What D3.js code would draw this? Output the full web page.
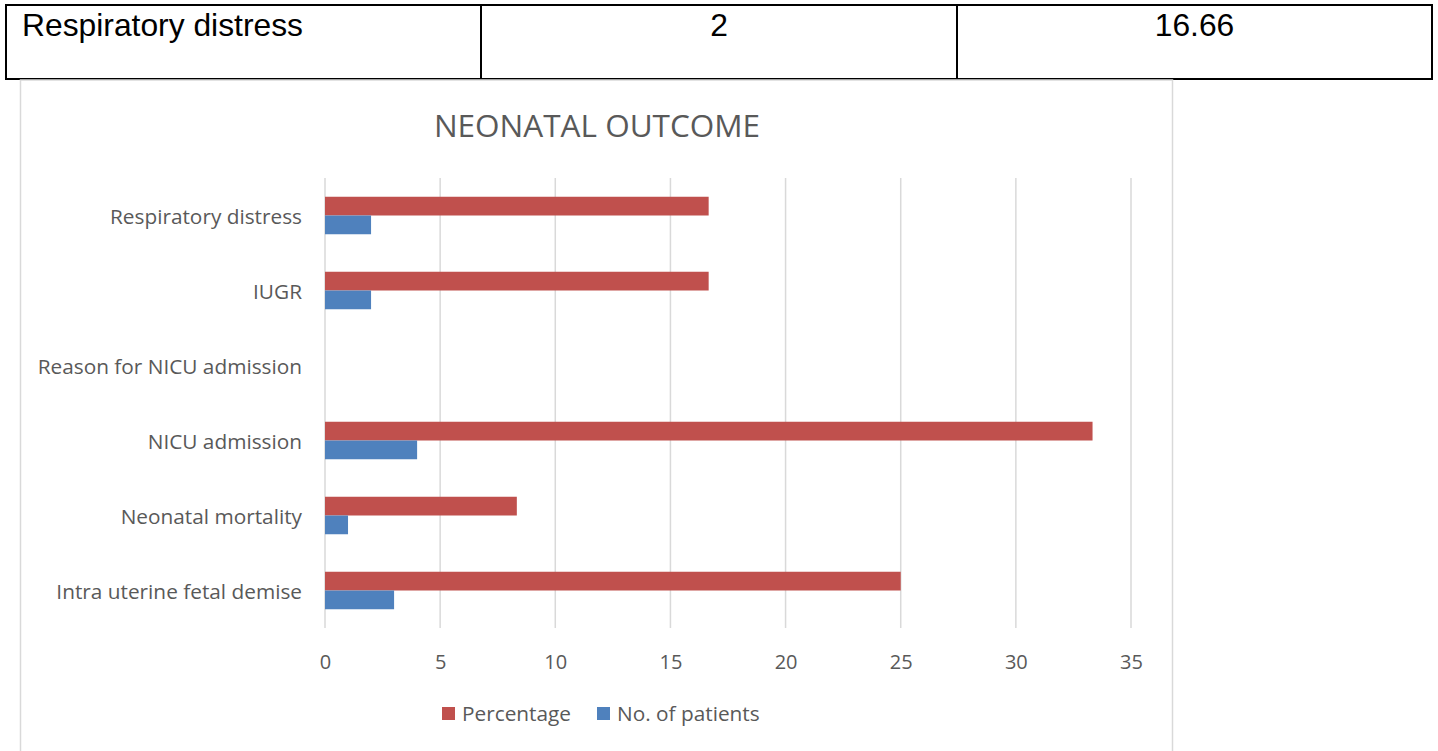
<!DOCTYPE html>
<html>
<head>
<meta charset="utf-8">
<script src="https://cdn.jsdelivr.net/npm/d3@7"></script>
<style>
  html, body { margin: 0; padding: 0; background: #ffffff; overflow: hidden; }
  svg { display: block; }
</style>
</head>
<body>
<svg id="chart" width="1438" height="751"></svg>
<script>
// ---- Data ----
const tableRow = ["Respiratory distress", "2", "16.66"];
const categories = ["Respiratory distress", "IUGR", "Reason for NICU admission", "NICU admission", "Neonatal mortality", "Intra uterine fetal demise"];
const percentage = [16.66, 16.66, null, 33.33, 8.33, 25];
const patients = [2, 2, null, 4, 1, 3];
const seriesNames = ["Percentage", "No. of patients"];
const xTicks = [0, 5, 10, 15, 20, 25, 30, 35];
const title = "NEONATAL OUTCOME";

const svg = d3.select("#chart");
const calib = "'Open Sans', 'Noto Sans', sans-serif";
const arial = "'Liberation Sans', Arial, sans-serif";
const labelColor = "#595959";
const colors = { "Percentage": "#C0504D", "No. of patients": "#4F81BD" };

// ---- Table row above chart ----
const tbl = svg.append("g");
const colEdges = [6, 481, 957, 1432];
const tTop = 5, tBot = 79;
tbl.append("rect").attr("x", colEdges[0]).attr("y", tTop)
  .attr("width", colEdges[3] - colEdges[0]).attr("height", tBot - tTop)
  .attr("fill", "none").attr("stroke", "#000").attr("stroke-width", 2);
[colEdges[1], colEdges[2]].forEach(xx => {
  tbl.append("line").attr("x1", xx).attr("x2", xx).attr("y1", tTop).attr("y2", tBot)
    .attr("stroke", "#000").attr("stroke-width", 2);
});
tbl.append("text").attr("x", 22).attr("y", 35.5).text(tableRow[0])
  .attr("font-family", arial).attr("font-size", 31.8).attr("fill", "#000");
tbl.append("text").attr("x", (colEdges[1] + colEdges[2]) / 2).attr("y", 35.5).attr("text-anchor", "middle").text(tableRow[1])
  .attr("font-family", arial).attr("font-size", 31.8).attr("fill", "#000");
tbl.append("text").attr("x", (colEdges[2] + colEdges[3]) / 2).attr("y", 35.5).attr("text-anchor", "middle").text(tableRow[2])
  .attr("font-family", arial).attr("font-size", 31.8).attr("fill", "#000");

// ---- Chart frame ----
svg.append("rect").attr("x", 20.5).attr("y", 80).attr("width", 1152).attr("height", 700)
  .attr("fill", "#fff").attr("stroke", "#D9D9D9").attr("stroke-width", 1.5);

// ---- Title ----
svg.append("text").attr("x", 597).attr("y", 137).attr("text-anchor", "middle")
  .attr("font-family", calib).attr("font-size", 31.5).attr("fill", labelColor).text(title);

// ---- Scales ----
const x = d3.scaleLinear().domain([0, 35]).range([325, 1131]);
const y = d3.scaleBand().domain(categories).range([178, 628]).paddingInner(0.5).paddingOuter(0.25);
const ySub = d3.scaleBand().domain(seriesNames).range([0, y.bandwidth()]);

// gridlines
const grid = svg.append("g");
grid.selectAll("line").data(xTicks).join("line")
  .attr("x1", d => x(d)).attr("x2", d => x(d))
  .attr("y1", 178).attr("y2", 628)
  .attr("stroke", "#D9D9D9").attr("stroke-width", 1.5);

// x axis labels
const xAxis = svg.append("g").attr("transform", "translate(0,628)")
  .call(d3.axisBottom(x).tickValues(xTicks).tickSize(0).tickPadding(27));
xAxis.select(".domain").remove();
xAxis.selectAll("text").attr("font-family", calib).attr("font-size", 20).attr("fill", labelColor);

// y axis labels
const yAxis = svg.append("g").attr("transform", "translate(325,2)")
  .call(d3.axisLeft(y).tickSize(0).tickPadding(23));
yAxis.select(".domain").remove();
yAxis.selectAll("text").attr("font-family", calib).attr("font-size", 20.8).attr("fill", labelColor);

// bars
const rows = categories.map((c, i) => ({ cat: c, vals: [
  { s: "Percentage", v: percentage[i] },
  { s: "No. of patients", v: patients[i] }
]}));
const g = svg.append("g");
const groups = g.selectAll("g").data(rows).join("g")
  .attr("transform", d => `translate(0,${y(d.cat)})`);
groups.selectAll("rect").data(d => d.vals.filter(v => v.v != null)).join("rect")
  .attr("x", x(0))
  .attr("y", d => ySub(d.s))
  .attr("width", d => x(d.v) - x(0))
  .attr("height", ySub.bandwidth())
  .attr("fill", d => colors[d.s]);

// legend
const legend = svg.append("g");
const legendItems = [{ s: "Percentage", x: 442 }, { s: "No. of patients", x: 597 }];
legendItems.forEach(it => {
  legend.append("rect").attr("x", it.x).attr("y", 707).attr("width", 13).attr("height", 13).attr("fill", colors[it.s]);
  legend.append("text").attr("x", it.x + 20).attr("y", 721).attr("font-family", calib)
    .attr("font-size", 20.8).attr("fill", labelColor).text(it.s);
});
</script>
</body>
</html>
